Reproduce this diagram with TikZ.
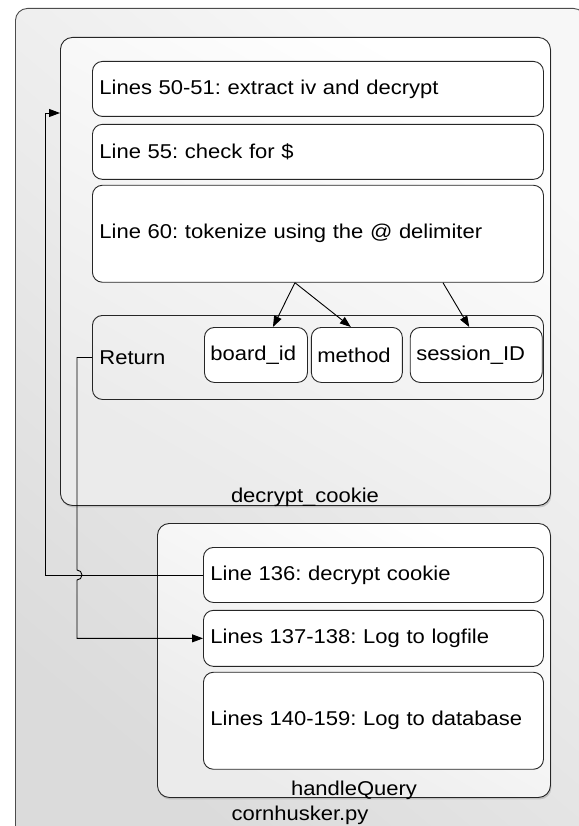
\documentclass[tikz,border=0pt]{standalone}
\usepackage{fontspec}
\setmainfont[FakeStretch=1.1]{Liberation Sans}
\usetikzlibrary{positioning,arrows.meta,shadows}
\newcommand\boxfont{\fontsize{20}{24}\selectfont\frenchspacing}

\begin{document}
\begin{tikzpicture}[x=1pt,y=-1pt,>={Triangle[length=11pt,width=8pt]},line width=0.9pt,
    file node/.style={draw=black!70,rounded corners=12pt,anchor=north west,inner sep=0pt,
      top color=black!3,bottom color=black!14,shading angle=-40},
    cont node/.style={draw=black!85,rounded corners=12pt,anchor=north west,inner sep=0pt,
      top color=white,bottom color=black!8,shading angle=-30,
      drop shadow={opacity=0.35,shadow xshift=1pt,shadow yshift=-2pt}},
    code node/.style={draw=black!85,rounded corners=10pt,fill=white,anchor=north west,
      align=left,inner xsep=7pt,inner ysep=0pt,font=\boxfont},
    field node/.style={code node,inner xsep=6pt},
    name node/.style={anchor=base,font=\boxfont}]

  \useasboundingbox (0,0) rectangle (578,826);

  % containers
  \node[file node,minimum width=570pt,minimum height=832pt] (py) at (15,8) {};
  \node[name node] (pyname) at (300,820) {cornhusker.py};

  \node[cont node,minimum width=490pt,minimum height=468pt] (dc) at (60,37) {};
  \node[name node] (dcname) at (305,502) {decrypt\_cookie};

  \node[cont node,minimum width=393pt,minimum height=274pt] (hq) at (157,523) {};
  \node[name node] (hqname) at (354,795) {handleQuery};

  % decrypt_cookie
  \node[code node,text width=437pt,minimum height=55pt] (l50) at (92,61) {Lines 50-51: extract iv and decrypt};
  \node[code node,text width=437pt,minimum height=55pt,below=7pt of l50] (l55) {Line 55: check for \$};
  \node[code node,text width=437pt,minimum height=97pt,below=5pt of l55] (l60) {Line 60: tokenize using the @ delimiter};
  \node[code node,text width=437pt,minimum height=84pt,fill=none] (ret) at (92,315) {Return};

  \node[field node,text width=91pt,minimum height=55pt] (bid) at (204,327) {board\_id};
  \node[field node,text width=79pt,minimum height=55pt,right=3pt of bid] (meth) {method};
  \node[field node,text width=120pt,minimum height=55pt,right=7pt of meth] (sess) {session\_ID};

  % handleQuery
  \node[code node,text width=326pt,minimum height=55pt] (l136) at (203,547) {Line 136: decrypt cookie};
  \node[code node,text width=326pt,minimum height=56pt,below=7pt of l136] (l137) {Lines 137-138: Log to logfile};
  \node[code node,text width=326pt,minimum height=97pt,below=5pt of l137] (l140) {Lines 140-159: Log to database};

  \draw[->] ([xshift=-23pt]l60.south) -- ([xshift=17pt]bid.north);
  \draw[->] ([xshift=-23pt]l60.south) -- ([xshift=-6pt]meth.north);
  \draw[->] ([xshift=125pt]l60.south) -- ([xshift=-7pt]sess.north);

  \coordinate (dcin) at (60,113);
  \draw[->] (l136.west) -| (45,113) -- (dcin);
  \draw[->] (ret.west) -| (77,570) arc[start angle=90,end angle=-90,radius=5pt] |- (l137.west);
\end{tikzpicture}
\end{document}
